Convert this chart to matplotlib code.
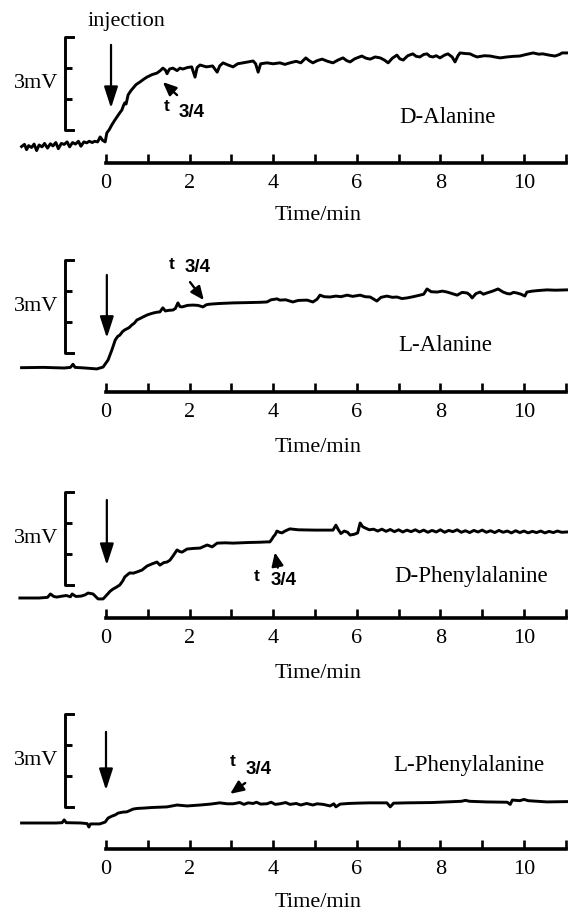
import numpy as np
import matplotlib.pyplot as plt

plt.rcParams['font.family'] = ['Liberation Serif', 'DejaVu Serif']

# traces: (time / min, signal / mV above baseline)
d_ala = [(-2.02, -0.05), (-1.95, 0.02), (-1.90, -0.15), (-1.85, -0.02), (-1.78, -0.08), (-1.72, 0.03),
         (-1.66, -0.18), (-1.60, 0.00), (-1.53, -0.06), (-1.47, 0.05), (-1.40, -0.10), (-1.33, 0.04),
         (-1.27, -0.03), (-1.20, 0.08), (-1.14, -0.12), (-1.07, 0.05), (-1.00, 0.02), (-0.93, 0.10),
         (-0.87, -0.06), (-0.80, 0.08), (-0.73, 0.03), (-0.66, 0.12), (-0.60, -0.04), (-0.53, 0.10),
         (-0.46, 0.07), (-0.40, 0.12), (-0.33, 0.08), (-0.27, 0.12), (-0.20, 0.10), (-0.14, 0.26),
         (-0.08, 0.15), (-0.02, 0.10), (0.02, 0.39), (0.08, 0.50), (0.14, 0.65), (0.20, 0.78),
         (0.26, 0.90), (0.32, 1.02), (0.38, 1.13), (0.42, 1.28), (0.45, 1.36), (0.48, 1.32),
         (0.53, 1.62), (0.60, 1.76), (0.65, 1.84), (0.72, 1.95), (0.81, 2.03), (0.90, 2.12),
         (0.98, 2.19), (1.10, 2.27), (1.22, 2.32), (1.30, 2.40), (1.36, 2.48), (1.42, 2.42),
         (1.46, 2.30), (1.52, 2.45), (1.60, 2.48), (1.70, 2.40), (1.77, 2.48), (1.84, 2.45),
         (1.95, 2.50), (2.05, 2.52), (2.13, 2.19), (2.18, 2.50), (2.25, 2.58), (2.40, 2.52),
         (2.55, 2.55), (2.66, 2.35), (2.72, 2.55), (2.80, 2.65), (2.92, 2.58), (3.04, 2.52),
         (3.15, 2.62), (3.28, 2.65), (3.40, 2.68), (3.52, 2.71), (3.58, 2.62), (3.64, 2.35),
         (3.70, 2.62), (3.85, 2.65), (4.00, 2.62), (4.16, 2.65), (4.28, 2.60), (4.40, 2.65),
         (4.55, 2.70), (4.66, 2.65), (4.78, 2.81), (4.86, 2.72), (4.95, 2.65), (5.05, 2.72),
         (5.17, 2.77), (5.30, 2.70), (5.43, 2.65), (5.55, 2.74), (5.67, 2.81), (5.76, 2.72),
         (5.84, 2.68), (5.95, 2.78), (6.12, 2.87), (6.22, 2.80), (6.32, 2.77), (6.44, 2.84),
         (6.56, 2.81), (6.66, 2.74), (6.75, 2.65), (6.85, 2.80), (6.96, 2.90), (7.03, 2.78),
         (7.11, 2.74), (7.22, 2.88), (7.34, 2.94), (7.42, 2.86), (7.51, 2.84), (7.60, 2.92),
         (7.68, 2.94), (7.75, 2.86), (7.82, 2.84), (7.90, 2.88), (7.99, 2.81), (8.10, 2.90),
         (8.18, 2.94), (8.28, 2.84), (8.35, 2.68), (8.42, 2.88), (8.47, 2.97), (8.60, 2.95),
         (8.71, 2.94), (8.80, 2.88), (8.88, 2.84), (9.05, 2.88), (9.19, 2.87), (9.30, 2.84),
         (9.43, 2.81), (9.59, 2.84), (9.75, 2.86), (9.90, 2.87), (10.05, 2.92), (10.22, 2.97),
         (10.35, 2.93), (10.45, 2.94), (10.60, 2.90), (10.74, 2.87), (10.85, 2.92), (10.91, 2.97),
         (11.05, 2.97)]

l_ala = [(-2.02, 0.01), (-1.50, 0.02), (-1.00, 0.00), (-0.85, 0.02), (-0.79, 0.12), (-0.74, 0.02),
         (-0.50, 0.00), (-0.22, -0.03), (-0.07, 0.03), (0.05, 0.26), (0.14, 0.58), (0.22, 0.90),
         (0.28, 1.02), (0.33, 1.06), (0.40, 1.18), (0.45, 1.23), (0.55, 1.30), (0.62, 1.39),
         (0.68, 1.45), (0.74, 1.55), (0.82, 1.60), (0.89, 1.65), (1.00, 1.72), (1.12, 1.77),
         (1.22, 1.80), (1.29, 1.81), (1.36, 1.94), (1.42, 1.84), (1.50, 1.86), (1.60, 1.87),
         (1.66, 1.92), (1.72, 2.10), (1.77, 1.98), (1.82, 1.97), (1.95, 2.02), (2.08, 2.03),
         (2.20, 2.02), (2.32, 1.97), (2.40, 2.04), (2.49, 2.06), (2.70, 2.08), (3.04, 2.10),
         (3.40, 2.11), (3.70, 2.12), (3.85, 2.13), (3.95, 2.20), (4.09, 2.23), (4.16, 2.19),
         (4.30, 2.20), (4.47, 2.13), (4.60, 2.18), (4.81, 2.19), (4.95, 2.13), (5.05, 2.22),
         (5.12, 2.35), (5.22, 2.30), (5.36, 2.29), (5.50, 2.32), (5.62, 2.30), (5.77, 2.35),
         (5.90, 2.31), (6.08, 2.35), (6.20, 2.30), (6.32, 2.29), (6.48, 2.16), (6.58, 2.28),
         (6.72, 2.32), (6.85, 2.28), (6.96, 2.29), (7.08, 2.24), (7.20, 2.26), (7.35, 2.30),
         (7.51, 2.35), (7.60, 2.38), (7.68, 2.55), (7.78, 2.46), (7.92, 2.45), (8.05, 2.48),
         (8.16, 2.45), (8.28, 2.40), (8.40, 2.35), (8.52, 2.44), (8.64, 2.42), (8.70, 2.36),
         (8.76, 2.26), (8.85, 2.40), (8.95, 2.45), (9.03, 2.38), (9.11, 2.42), (9.25, 2.48),
         (9.38, 2.55), (9.50, 2.45), (9.60, 2.40), (9.67, 2.39), (9.75, 2.44), (9.83, 2.42),
         (9.93, 2.38), (10.02, 2.32), (10.07, 2.45), (10.20, 2.48), (10.35, 2.50), (10.55, 2.52),
         (10.75, 2.51), (11.03, 2.52)]

d_phe = [(-2.06, 0.00), (-1.60, 0.00), (-1.40, 0.02), (-1.33, 0.13), (-1.25, 0.05), (-1.18, 0.03),
         (-1.05, 0.06), (-0.95, 0.08), (-0.85, 0.04), (-0.81, 0.13), (-0.72, 0.05), (-0.60, 0.06),
         (-0.50, 0.10), (-0.43, 0.16), (-0.31, 0.13), (-0.19, -0.03), (-0.07, -0.03), (0.02, 0.10),
         (0.10, 0.22), (0.17, 0.29), (0.25, 0.35), (0.33, 0.42), (0.40, 0.55), (0.45, 0.68),
         (0.52, 0.76), (0.57, 0.81), (0.65, 0.80), (0.74, 0.84), (0.86, 0.90), (0.98, 1.03),
         (1.10, 1.10), (1.22, 1.16), (1.29, 1.06), (1.38, 1.14), (1.46, 1.16), (1.53, 1.22),
         (1.60, 1.35), (1.70, 1.55), (1.76, 1.50), (1.82, 1.48), (1.94, 1.58), (2.10, 1.60),
         (2.25, 1.61), (2.42, 1.71), (2.54, 1.65), (2.66, 1.77), (2.85, 1.78), (3.04, 1.77),
         (3.40, 1.79), (3.70, 1.80), (3.85, 1.81), (3.92, 1.81), (3.97, 1.90), (4.00, 1.97),
         (4.05, 2.05), (4.09, 2.16), (4.15, 2.12), (4.21, 2.10), (4.27, 2.15), (4.33, 2.19),
         (4.40, 2.23), (4.60, 2.20), (5.00, 2.19), (5.43, 2.19), (5.50, 2.35), (5.56, 2.20),
         (5.62, 2.08), (5.70, 2.16), (5.78, 2.12), (5.84, 2.03), (5.95, 2.06), (6.02, 2.10),
         (6.08, 2.42), (6.14, 2.30), (6.20, 2.26), (6.30, 2.20), (6.40, 2.22), (6.50, 2.16),
         (6.60, 2.22), (6.70, 2.15), (6.80, 2.21), (6.90, 2.14), (7.00, 2.20), (7.10, 2.13),
         (7.20, 2.19), (7.30, 2.14), (7.40, 2.20), (7.50, 2.13), (7.60, 2.19), (7.70, 2.12),
         (7.80, 2.18), (7.90, 2.13), (8.00, 2.20), (8.10, 2.12), (8.20, 2.18), (8.30, 2.14),
         (8.40, 2.20), (8.50, 2.12), (8.60, 2.17), (8.70, 2.11), (8.80, 2.18), (8.90, 2.13),
         (9.00, 2.19), (9.10, 2.12), (9.20, 2.17), (9.30, 2.11), (9.40, 2.18), (9.50, 2.12),
         (9.60, 2.16), (9.70, 2.10), (9.80, 2.17), (9.90, 2.11), (10.00, 2.16), (10.10, 2.10),
         (10.20, 2.15), (10.30, 2.11), (10.40, 2.16), (10.50, 2.10), (10.60, 2.15), (10.70, 2.11),
         (10.80, 2.16), (10.90, 2.12), (11.03, 2.13)]

l_phe = [(-2.02, 0.00), (-1.20, 0.00), (-1.05, 0.01), (-1.00, 0.10), (-0.95, 0.01), (-0.60, 0.00),
         (-0.45, -0.02), (-0.41, -0.13), (-0.37, -0.03), (-0.15, -0.03), (-0.02, 0.03), (0.05, 0.16),
         (0.14, 0.22), (0.22, 0.26), (0.29, 0.32), (0.40, 0.35), (0.50, 0.36), (0.60, 0.42),
         (0.65, 0.45), (0.75, 0.47), (0.89, 0.48), (1.10, 0.50), (1.46, 0.52), (1.70, 0.58),
         (1.94, 0.55), (2.25, 0.58), (2.50, 0.61), (2.72, 0.65), (2.90, 0.62), (3.04, 0.62),
         (3.20, 0.66), (3.30, 0.60), (3.40, 0.65), (3.52, 0.63), (3.60, 0.67), (3.70, 0.61),
         (3.85, 0.62), (3.95, 0.67), (4.05, 0.60), (4.16, 0.62), (4.30, 0.66), (4.40, 0.60),
         (4.55, 0.63), (4.66, 0.58), (4.80, 0.63), (4.95, 0.58), (5.05, 0.62), (5.20, 0.60),
         (5.36, 0.55), (5.45, 0.62), (5.50, 0.52), (5.60, 0.61), (5.80, 0.63), (6.00, 0.64),
         (6.30, 0.65), (6.72, 0.65), (6.80, 0.52), (6.88, 0.64), (7.20, 0.65), (7.80, 0.66),
         (8.50, 0.70), (8.60, 0.73), (8.70, 0.70), (9.10, 0.68), (9.60, 0.67), (9.67, 0.60),
         (9.72, 0.74), (9.90, 0.72), (10.00, 0.76), (10.10, 0.72), (10.55, 0.68), (11.03, 0.69)]

names = ["D-Alanine", "L-Alanine", "D-Phenylalanine", "L-Phenylalanine"]
traces = [d_ala, l_ala, d_phe, l_phe]
scale_mv = 3
time_ticks = list(range(12))
time_labels = [str(t) if t % 2 == 0 else "" for t in time_ticks]

# layout of each panel (pixel row of the baseline, then positions in min / mV)
base_px = [145, 368, 598, 823]
axis_y = [-0.58, -0.77, -0.65, -0.84]
label_y = [-2.26, -2.55, -2.42, -2.58]
bar_lo = [0.48, 0.48, 0.42, 0.52]
name_xy = [(8.18, 0.90), (8.11, 0.74), (8.73, 0.68), (8.68, 1.87)]
inj_arrow = [(0.12, 3.23, 1.19), (0.02, 3.00, 0.97), (0.02, 3.16, 1.06), (0.00, 2.94, 1.06)]
# t3/4 marker: arrow tail, arrow tip, "t" position, "3/4" position
t34 = [((1.70, 1.61), (1.36, 2.03), (1.45, 1.25), (2.06, 1.06)),
       ((2.01, 2.77), (2.34, 2.19), (1.57, 3.34), (2.20, 3.23)),
       ((4.11, 0.98), (4.04, 1.47), (3.60, 0.70), (4.26, 0.55)),
       ((3.33, 1.29), (2.97, 0.94), (3.03, 1.99), (3.64, 1.71))]

W, H = 568, 911
px_min = 41.8
px_mv = 31.0
x_lo, x_hi = -106 / px_min, (W - 106) / px_min

fig = plt.figure(figsize=(W / 100, H / 100), dpi=100)
sans = ['Liberation Sans', 'DejaVu Sans']

for i in range(4):
    top = max(base_px[i] - 150, 0)
    bot = min(base_px[i] + 88, H)
    ax = fig.add_axes([0, 1 - bot / H, 1, (bot - top) / H])
    ax.patch.set_alpha(0)
    ax.set_xlim(x_lo, x_hi)
    ax.set_ylim((base_px[i] - bot) / px_mv, (base_px[i] - top) / px_mv)

    tt, vv = np.array(traces[i]).T
    ax.plot(tt, vv, color='black', lw=2.1, solid_joinstyle='round')

    # time axis
    for s in ['top', 'left', 'right']:
        ax.spines[s].set_visible(False)
    ax.spines['bottom'].set_position(('data', axis_y[i]))
    ax.spines['bottom'].set_bounds(0, 11)
    ax.spines['bottom'].set_linewidth(2.6)
    ax.set_yticks([])
    ax.set_xticks(time_ticks)
    ax.set_xticklabels(time_labels)
    ax.tick_params(axis='x', direction='in', length=6.5, width=1.9, pad=8, labelsize=16)
    ax.text(5.07, label_y[i], "Time/min", ha='center', va='center', fontsize=16)

    # 3 mV scale bracket
    bx = -0.98
    lo = bar_lo[i]
    hi = lo + scale_mv
    ax.plot([bx + 0.19, bx, bx, bx + 0.19], [lo, lo, hi, hi], color='black', lw=2.1)
    ax.hlines([lo + 1, lo + 2], bx, bx + 0.16, color='black', lw=2.1)
    ax.text(-1.15, lo + 1.5, "3mV", ha='right', va='center', fontsize=16)

    ax.text(name_xy[i][0], name_xy[i][1], names[i], ha='center', va='center', fontsize=16.5)

    xa, y_tail, y_tip = inj_arrow[i]
    ax.annotate("", xy=(xa, y_tip), xytext=(xa, y_tail),
                arrowprops=dict(arrowstyle='-|>,head_length=1.3,head_width=0.42',
                                mutation_scale=10, lw=1.6, color='black', shrinkA=0, shrinkB=0))

    tail, tip, tpos, fpos = t34[i]
    ax.annotate("", xy=tip, xytext=tail,
                arrowprops=dict(arrowstyle='-|>,head_length=0.8,head_width=0.35',
                                mutation_scale=10, lw=1.7, color='black', shrinkA=0, shrinkB=0))
    ax.text(tpos[0], tpos[1], "t", ha='center', va='center', fontsize=12.5,
            family=sans, weight='bold')
    ax.text(fpos[0], fpos[1], "3/4", ha='center', va='center', fontsize=13.5,
            family=sans, weight='bold')

    if i == 0:
        ax.text(0.50, 3.97, "injection", ha='center', va='center', fontsize=16)

fig.savefig("out.png", dpi=100)
